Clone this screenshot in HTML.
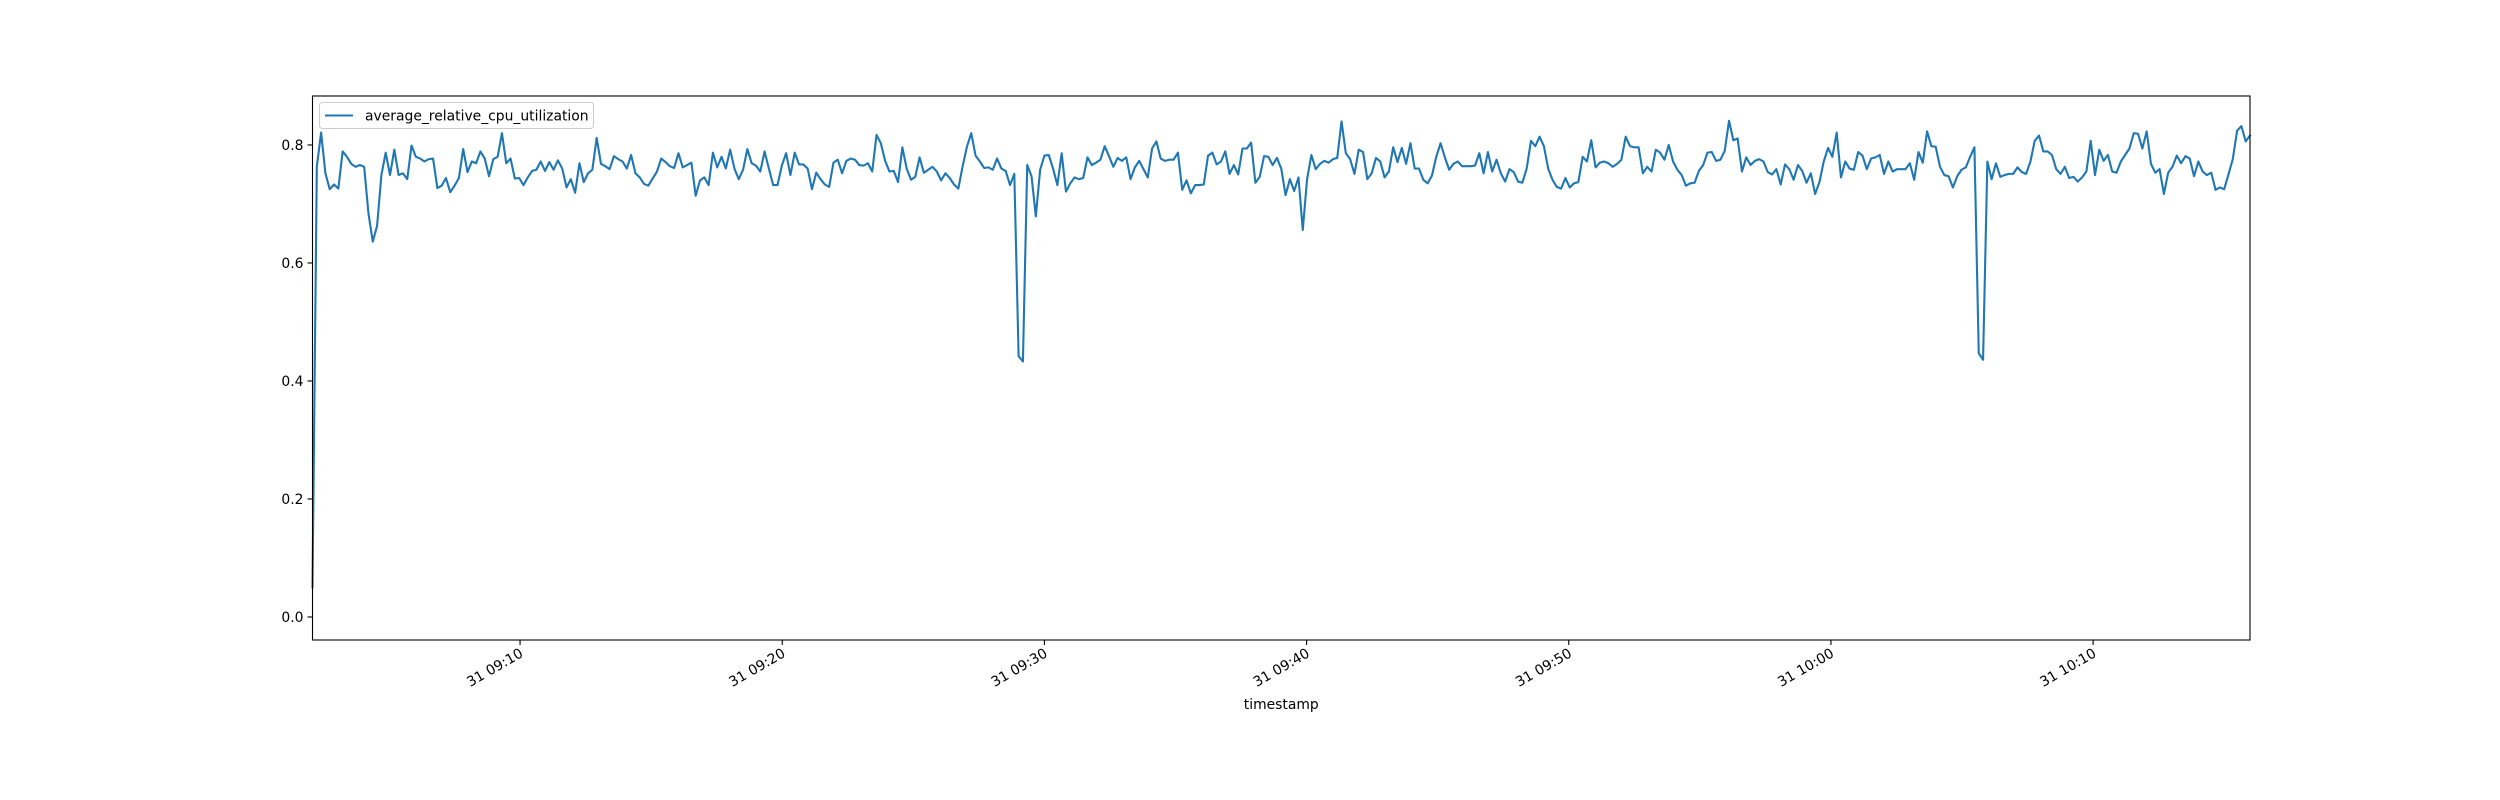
<!DOCTYPE html>
<html><head><meta charset="utf-8"><style>
html,body{margin:0;padding:0;background:#fff;}
svg{display:block;font-family:"DejaVu Sans","Liberation Sans",sans-serif;}
</style></head><body>
<svg id="chart" width="2500" height="800" viewBox="0 0 2500 800" xmlns="http://www.w3.org/2000/svg">
<rect width="2500" height="800" fill="#fff"/>
<g id="plot"></g>
</svg>
<script>
const seriesName = "average_relative_cpu_utilization";
const startTime = "09:02:05";
const endTime = "10:15:59";
const yTicks = [0.0, 0.2, 0.4, 0.6, 0.8];
const xTickTimes = ["09:10","09:20","09:30","09:40","09:50","10:00","10:10"];
const xTickLabels = ["31 09:10","31 09:20","31 09:30","31 09:40","31 09:50","31 10:00","31 10:10"];
const values1 = [0.05,0.763,0.821,0.752,0.725,0.733,0.726,0.789,0.780,0.768,0.763,0.766,0.763,0.684,0.636,0.663,0.749,0.787,0.749,0.792,0.749,0.752,0.742,0.799,0.780,0.777,0.772,0.776,0.777,0.727,0.731,0.744,0.720,0.731,0.744,0.793,0.754,0.772,0.769,0.789,0.777,0.747,0.776,0.780,0.820,0.769,0.777,0.743,0.744,0.732,0.745,0.756,0.758,0.772,0.756,0.771,0.758,0.774,0.760,0.728,0.742,0.719,0.769,0.737,0.752,0.758,0.812,0.768,0.764,0.759,0.781,0.776,0.772,0.760,0.783,0.752,0.745,0.734,0.731,0.743,0.755,0.777,0.771,0.764,0.761,0.786,0.762,0.766,0.770,0.714,0.740,0.745,0.732,0.787,0.762,0.780,0.760,0.792,0.760,0.742,0.758,0.793,0.769,0.765,0.755,0.789,0.760,0.732,0.732,0.765,0.786,0.749,0.787,0.767,0.767,0.760,0.725,0.753,0.742,0.733,0.729,0.770,0.775,0.752,0.773,0.777,0.775,0.766,0.765,0.769,0.755,0.817,0.803,0.773,0.755,0.756,0.737,0.796,0.760,0.741,0.746,0.779,0.753,0.758,0.763,0.755,0.740,0.752,0.744,0.733,0.726,0.764,0.797,0.820,0.782,0.772,0.761,0.762,0.758,0.777];
const values2 = [0.760,0.756,0.732,0.751,0.442,0.433,0.766,0.747,0.679,0.758,0.782,0.783,0.760,0.732,0.786,0.721,0.735,0.745,0.742,0.744,0.779,0.766,0.770,0.775,0.798,0.781,0.763,0.778,0.773,0.779,0.742,0.762,0.773,0.759,0.745,0.794,0.806,0.777,0.773,0.775,0.775,0.787,0.724,0.740,0.718,0.732,0.732,0.733,0.782,0.787,0.767,0.772,0.789,0.751,0.766,0.750,0.794,0.794,0.804,0.736,0.746,0.781,0.780,0.766,0.778,0.760,0.715,0.742,0.722,0.745,0.656,0.742,0.783,0.759,0.768,0.773,0.770,0.776,0.778,0.840,0.786,0.776,0.751,0.792,0.788,0.742,0.752,0.778,0.772,0.745,0.755,0.796,0.771,0.795,0.768,0.803,0.760,0.760,0.741,0.735,0.748,0.780,0.803,0.779,0.758,0.768,0.772,0.764,0.764,0.764,0.765,0.786,0.752,0.788,0.755,0.775,0.752,0.738,0.759,0.754,0.738,0.736,0.760,0.807,0.798,0.814,0.798,0.760,0.741,0.729,0.726,0.744,0.728,0.735,0.737,0.780,0.772,0.808,0.762,0.770,0.772,0.769,0.763,0.768,0.775,0.814,0.798,0.796,0.796,0.752,0.763,0.755,0.792,0.787,0.775,0.800,0.772,0.758,0.749,0.731,0.735,0.736,0.756];
const values3 = [0.766,0.787,0.788,0.773,0.775,0.790,0.841,0.808,0.811,0.755,0.779,0.766,0.773,0.776,0.772,0.754,0.750,0.759,0.733,0.767,0.759,0.741,0.766,0.756,0.736,0.752,0.717,0.737,0.772,0.795,0.780,0.821,0.745,0.772,0.760,0.758,0.788,0.782,0.759,0.777,0.779,0.783,0.751,0.772,0.755,0.759,0.759,0.759,0.769,0.741,0.788,0.770,0.823,0.798,0.797,0.763,0.749,0.747,0.728,0.747,0.758,0.762,0.780,0.796,0.447,0.436,0.772,0.742,0.769,0.746,0.749,0.751,0.751,0.762,0.754,0.751,0.772,0.807,0.816,0.789,0.789,0.783,0.759,0.751,0.763,0.744,0.746,0.738,0.745,0.755,0.807,0.749,0.792,0.773,0.783,0.755,0.753,0.772,0.783,0.794,0.820,0.819,0.794,0.823,0.768,0.753,0.759,0.717,0.753,0.763,0.782,0.769,0.781,0.777,0.747,0.772,0.755,0.749,0.753,0.724,0.728,0.725,0.750,0.776,0.824,0.832,0.806,0.816];
const values = values1.concat(values2, values3);

const NS = "http://www.w3.org/2000/svg";
const L = 312.5, R = 2250, T = 96, B = 640;
const yMin = -0.039, yMax = 0.883;
function toSec(s){const p=s.split(":").map(Number);return p[0]*3600+p[1]*60+(p[2]||0);}
const t0 = toSec(startTime);
const tEnd = toSec(endTime);
const step = (tEnd-t0)/(values.length-1);
function xScale(t){return L + (t-t0)/(tEnd-t0)*(R-L);}
function yScale(v){return B - (v-yMin)/(yMax-yMin)*(B-T);}
const g = document.getElementById("plot");
function mk(tag, attrs, parent){const e=document.createElementNS(NS,tag);for(const k in attrs)e.setAttribute(k,attrs[k]);(parent||g).appendChild(e);return e;}

let d = "";
values.forEach((v,i)=>{d += (i?"L":"M")+xScale(t0+i*step).toFixed(2)+","+yScale(v).toFixed(2);});
const line = mk("path",{d:d,fill:"none",stroke:"#1f77b4","stroke-width":2.1,"stroke-linejoin":"round","stroke-linecap":"square"});



const frame = mk("rect",{x:L,y:T,width:R-L,height:B-T,fill:"none",stroke:"#000","stroke-width":1.1});



yTicks.forEach(v=>{
  const y = yScale(v);
  const tk = mk("line",{x1:L-5,x2:L,y1:y,y2:y,stroke:"#000","stroke-width":1.1});
  
  
  const tx = mk("text",{x:L-9,y:y+5,"text-anchor":"end","font-size":"13.9px",fill:"#000"});
  tx.textContent = v.toFixed(1);
  
  
});

xTickTimes.forEach((s,i)=>{
  const x = xScale(toSec(s));
  const tk = mk("line",{x1:x,x2:x,y1:B,y2:B+5,stroke:"#000","stroke-width":1.1});
  
  
  const tx = mk("text",{x:x+4,y:B+16,"text-anchor":"end","font-size":"13.9px",fill:"#000",transform:"rotate(-30 "+(x+4)+" "+(B+16)+")"});
  tx.textContent = xTickLabels[i];
  
  
});

const xt = mk("text",{x:(L+R)/2,y:709,"text-anchor":"middle","font-size":"13.9px",fill:"#000"});
xt.textContent = "timestamp";



const lg = mk("g",{});


mk("rect",{x:319.5,y:102.5,width:274,height:26,rx:3,fill:"#fff","fill-opacity":0.8,stroke:"#ccc","stroke-width":1},lg);
const ll = mk("line",{x1:325,x2:353,y1:115.5,y2:115.5,stroke:"#1f77b4","stroke-width":2.1},lg);


const lt = mk("text",{x:365,y:120.5,"font-size":"13.9px",fill:"#000"},lg);
lt.textContent = seriesName;


</script>
</body></html>
